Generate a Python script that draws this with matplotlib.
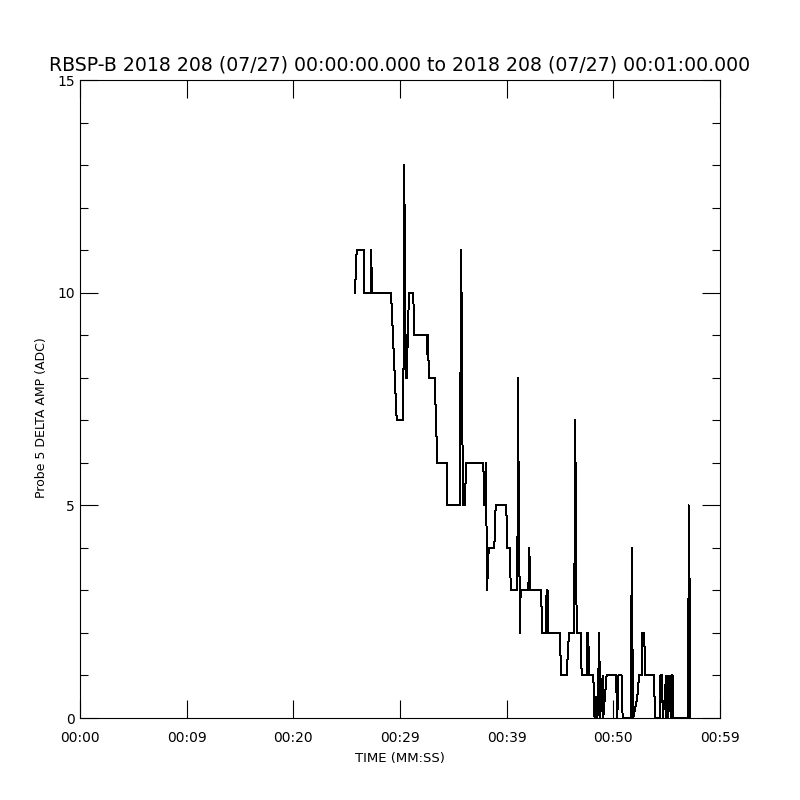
import numpy as np
import matplotlib.pyplot as plt
from matplotlib.ticker import MultipleLocator

# trace (seconds after 00:00:00, ADC counts)
t = [25.78, 25.94, 26.62, 26.62, 27.25, 27.30, 27.37, 29.16, 29.69, 30.31,
     30.40, 30.52, 30.57, 30.63, 30.84, 31.25, 31.31, 32.56, 32.58, 32.62,
     32.66, 32.72, 33.25, 33.37, 33.50, 34.38, 34.43, 35.62, 35.72, 35.76,
     35.78, 35.80, 35.90, 36.09, 36.19, 37.81, 37.90, 37.95, 38.00, 38.06,
     38.16, 38.32, 38.84, 38.97, 39.97, 40.03, 40.31, 40.38, 40.99, 41.09,
     41.12, 41.16, 41.23, 41.31, 42.03, 42.12, 42.22, 43.22, 43.34, 43.69,
     43.74, 43.78, 43.84, 43.90, 45.00, 45.09, 45.62, 45.84, 46.34, 46.40,
     46.44, 46.48, 46.56, 46.94, 47.03, 47.50, 47.55, 47.65, 47.72, 48.12,
     48.24, 48.38, 48.42, 48.51, 48.68, 48.75, 48.90, 49.00, 49.05, 49.37,
     50.25, 50.31, 50.37, 50.47, 50.78, 50.87, 51.66, 51.72, 51.75, 51.78,
     51.87, 52.25, 52.41, 52.66, 52.72, 52.90, 52.97, 53.84, 53.88, 54.37,
     54.40, 54.59, 54.62, 54.84, 54.93, 54.98, 55.09, 55.15, 55.21, 55.26,
     55.30, 55.37, 55.43, 55.56, 55.59, 57.03, 57.06, 57.10, 57.13, 57.19]
amp = [10, 11, 11, 10, 10, 11, 10, 10, 7, 7,
       13, 8, 9, 8, 10, 10, 9, 9, 8.5, 9,
       8.5, 8, 8, 7, 6, 6, 5, 5, 11, 9.5,
       10, 8.5, 5, 5, 6, 6, 5, 5.5, 5, 6,
       3, 4, 4, 5, 5, 4, 4, 3, 3, 8,
       5, 5.5, 2, 3, 3, 4, 3, 3, 2, 2,
       3, 2, 3, 2, 2, 1, 1, 2, 2, 7,
       5, 6, 2, 2, 1, 1, 2, 2, 1, 1,
       0, 0, 0.5, 0, 2, 0, 0.5, 1, 0, 1,
       1, 0.5, 0, 1, 1, 0, 0, 4, 1.5, 2,
       0, 0.5, 1, 1, 2, 2, 1, 1, 0, 0,
       1, 1, 0, 0.5, 1, 0, 1, 0, 1, 0.5,
       1, 0, 1, 1, 0, 0, 5, 3, 4, 0]

xticks = [0, 10, 20, 30, 40, 50, 60]
xticklabels = ['00:00', '00:09', '00:20', '00:29', '00:39', '00:50', '00:59']
yticks = [0, 5, 10, 15]

fig = plt.figure(figsize=(8, 8), dpi=100)
ax = fig.add_axes([0.1, 0.1025, 0.8, 0.7975])

ax.plot(t, amp, color='black', lw=0.72, antialiased=False)

ax.set_xlim(0, 60)
ax.set_ylim(0, 15)
ax.set_xticks(xticks)
ax.set_xticklabels(xticklabels)
ax.set_yticks(yticks)
ax.yaxis.set_minor_locator(MultipleLocator(1))
ax.tick_params(which='both', direction='in', top=True, right=True, labelsize=10, width=0.8)
ax.tick_params(which='major', length=13)
ax.tick_params(which='minor', length=6)
ax.tick_params(axis='x', which='major', pad=9.5)
ax.tick_params(axis='y', which='major', pad=3.5)
for s in ax.spines.values():
    s.set_linewidth(0.8)

ax.set_xlabel('TIME (MM:SS)', fontsize=9.5, labelpad=5)
ax.set_ylabel('Probe 5 DELTA AMP (ADC)', fontsize=9)
ax.yaxis.set_label_coords(-0.05, 0.471)
fig.text(0.5, 0.919, 'RBSP-B 2018 208 (07/27) 00:00:00.000 to 2018 208 (07/27) 00:01:00.000',
         ha='center', va='center', fontsize=13.6)

fig.savefig('out.png', dpi=100)
